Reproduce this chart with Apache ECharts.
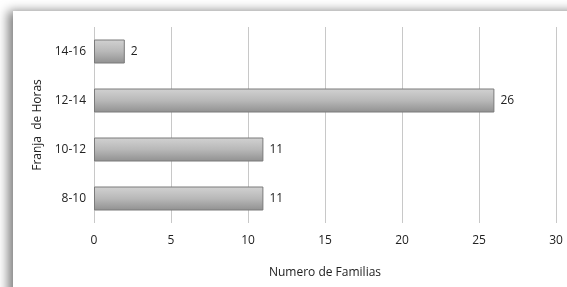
<!DOCTYPE html>
<html>
<head>
<meta charset="utf-8">
<script src="https://cdn.jsdelivr.net/npm/echarts@6/dist/echarts.min.js"></script>
<style>
  html, body { margin: 0; padding: 0; background: #fff; }
  #chart { width: 567px; height: 287px; }
</style>
</head>
<body>
<div id="chart"></div>
<script>
const categories = ['8-10', '10-12', '12-14', '14-16'];
const familias = [11, 11, 26, 2];
const xTicks = [0, 5, 10, 15, 20, 25, 30];

const chart = echarts.init(document.getElementById('chart'));
const font = 'Open Sans';

chart.setOption({
  backgroundColor: '#ffffff',
  animation: false,
  textStyle: { fontFamily: font },
  graphic: [
    {
      type: 'rect',
      shape: { x: 13, y: 11, width: 620, height: 320 },
      style: {
        fill: '#ffffff',
        shadowBlur: 10,
        shadowOffsetX: -5,
        shadowOffsetY: 0,
        shadowColor: 'rgba(0,0,0,0.5)'
      },
      z: -10
    }
  ],
  grid: { left: 94, right: 11, top: 27, bottom: 64 },
  xAxis: {
    type: 'value',
    min: xTicks[0],
    max: xTicks[xTicks.length - 1],
    interval: 5,
    name: 'Numero de Familias',
    nameLocation: 'middle',
    nameGap: 44,
    nameMoveOverlap: false,
    nameTextStyle: { fontSize: 12, color: '#222', fontFamily: font },
    axisLine: { show: false },
    axisTick: { show: false },
    axisLabel: { fontSize: 12, color: '#222', margin: 12, fontFamily: font },
    splitLine: { lineStyle: { color: '#c8c8c8', width: 1 } }
  },
  yAxis: {
    type: 'category',
    data: categories,
    name: 'Franja  de Horas',
    nameLocation: 'middle',
    nameGap: 50,
    nameMoveOverlap: false,
    nameTextStyle: { fontSize: 12, color: '#222', fontFamily: font },
    axisLine: { show: false },
    axisTick: { show: false },
    axisLabel: { fontSize: 12, color: '#222', margin: 8, fontFamily: font },
    splitLine: { show: false }
  },
  series: [{
    type: 'bar',
    data: familias,
    barWidth: 24,
    itemStyle: {
      color: new echarts.graphic.LinearGradient(0, 0, 0, 1, [
        { offset: 0, color: '#d2d2d2' },
        { offset: 0.5, color: '#b8b8b8' },
        { offset: 1, color: '#909090' }
      ]),
      borderColor: '#7a7a7a',
      borderWidth: 1
    },
    label: {
      show: true,
      position: 'right',
      distance: 6,
      fontSize: 12,
      color: '#222',
      fontFamily: font
    }
  }]
});
</script>
</body>
</html>
